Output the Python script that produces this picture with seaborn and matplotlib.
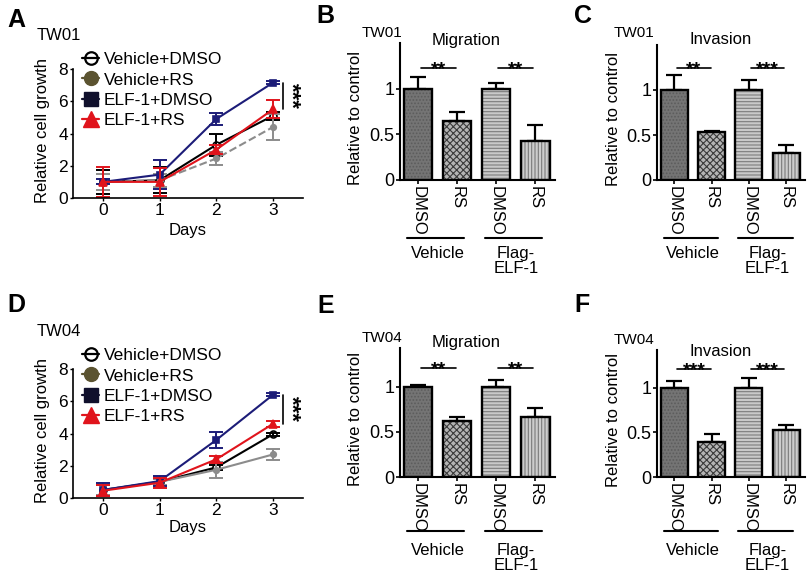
"""
Growth curves and transwell migration/invasion of TW01 and TW04 cells.
"""

import numpy as np
import matplotlib
matplotlib.use('Agg')
import matplotlib.pyplot as plt
from matplotlib.lines import Line2D
from matplotlib.patches import Rectangle
from matplotlib.transforms import offset_copy
import seaborn as sns

# ---- growth curve data (relative cell growth) ----
days = [0, 1, 2, 3]
growth_labels = ['Vehicle+DMSO', 'Vehicle+RS', 'ELF-1+DMSO', 'ELF-1+RS']

tw01_veh_dmso = [1.0, 1.1, 3.3, 5.1]
tw01_veh_dmso_err = [0.75, 0.8, 0.7, 0.25]
tw01_veh_rs = [1.0, 1.1, 2.45, 4.4]
tw01_veh_rs_err = [0.5, 0.4, 0.4, 0.8]
tw01_elf_dmso = [1.0, 1.45, 4.9, 7.15]
tw01_elf_dmso_err = [0.15, 0.9, 0.4, 0.1]
tw01_elf_rs = [1.0, 1.0, 3.0, 5.5]
tw01_elf_rs_err = [0.95, 0.85, 0.3, 0.55]

tw04_veh_dmso = [0.5, 1.0, 1.9, 3.95]
tw04_veh_dmso_err = [0.3, 0.2, 0.15, 0.1]
tw04_veh_rs = [0.5, 1.0, 1.75, 2.7]
tw04_veh_rs_err = [0.3, 0.2, 0.5, 0.35]
tw04_elf_dmso = [0.5, 1.05, 3.6, 6.4]
tw04_elf_dmso_err = [0.4, 0.3, 0.5, 0.1]
tw04_elf_rs = [0.45, 0.95, 2.4, 4.6]
tw04_elf_rs_err = [0.35, 0.3, 0.2, 0.2]

# ---- transwell data (relative to control) ----
bar_keys = ['Vehicle DMSO', 'Vehicle RS', 'Flag-ELF-1 DMSO', 'Flag-ELF-1 RS']
bar_treatments = ['DMSO', 'RS', 'DMSO', 'RS']
bar_groups = ['Vehicle', 'Flag-\nELF-1']

tw01_migration = [1.0, 0.65, 1.0, 0.43]
tw01_migration_err = [0.13, 0.1, 0.06, 0.17]
tw01_invasion = [1.0, 0.53, 1.0, 0.3]
tw01_invasion_err = [0.17, 0.02, 0.11, 0.09]
tw04_migration = [1.0, 0.62, 1.0, 0.67]
tw04_migration_err = [0.02, 0.04, 0.08, 0.1]
tw04_invasion = [1.0, 0.39, 1.0, 0.53]
tw04_invasion_err = [0.07, 0.09, 0.11, 0.05]

tw01_migration_sig = ['**', '**']
tw01_invasion_sig = ['**', '***']
tw04_migration_sig = ['**', '**']
tw04_invasion_sig = ['***', '***']

# ---- styles ----
line_styles = {
    'Vehicle+DMSO': dict(color='black', marker='o', mfc='white', ms=5),
    'Vehicle+RS': dict(color='#8c8c8c', marker='o', mfc='#8c8c8c', ms=4),
    'ELF-1+DMSO': dict(color='#1c1c78', marker='s', mfc='#1c1c78', ms=4.5),
    'ELF-1+RS': dict(color='#e0141c', marker='^', mfc='#e0141c', ms=5.5),
}
bar_faces = ['#747474', '#b4b4b4', '#c9c9c9', '#cdcdcd']
bar_hatches = ['.....', 'xxxxx', '-----', '|||||']
bar_hatch_colors = ['#5c5c5c', '#3a3a3a', '#7c7c7c', '#7a7a7a']

W, H = 812, 576

sns.set_style('ticks', rc={'text.color': 'black', 'axes.labelcolor': 'black',
                           'xtick.color': 'black', 'ytick.color': 'black',
                           'axes.edgecolor': 'black'})
plt.rcParams['font.family'] = ['Liberation Sans', 'DejaVu Sans']
plt.rcParams['hatch.linewidth'] = 0.8

fig = plt.figure(figsize=(W / 100, H / 100), dpi=100)


def px_axes(left, top, right, bottom):
    """Axes placed by pixel edges of the 812x576 canvas."""
    return fig.add_axes([left / W, 1 - bottom / H, (right - left) / W, (bottom - top) / H])


def ftext(x, y, s, **kw):
    fig.text(x / W, 1 - y / H, s, **kw)


def growth_panel(ax, vals, errs, dashed_rs):
    for label, v, e in zip(growth_labels, vals, errs):
        st = line_styles[label]
        ls = '--' if (label == 'Vehicle+RS' and dashed_rs) else '-'
        sns.lineplot(x=days, y=v, ax=ax, color=st['color'], marker=st['marker'],
                     markersize=st['ms'], markerfacecolor=st['mfc'],
                     markeredgecolor=st['color'], markeredgewidth=1.2,
                     linewidth=1.5, linestyle=ls)
        ax.errorbar(days, v, yerr=e, fmt='none', ecolor=st['color'],
                    elinewidth=1.4, capsize=5, capthick=1.4)
    ax.set_xlim(-0.53, 3.53)
    ax.set_ylim(0, 8)
    ax.set_xticks(days)
    ax.set_yticks([0, 2, 4, 6, 8])
    ax.tick_params(labelsize=12.5, length=2, width=1, pad=1.5)
    ax.set_xlabel('Days', fontsize=12)
    ax.set_ylabel('Relative cell growth', fontsize=12)
    ax.yaxis.set_label_coords(-0.1, 0.52)
    for sp in ['left', 'bottom']:
        ax.spines[sp].set_linewidth(1.2)
    sns.despine(ax=ax)

    # significance between ELF-1+DMSO and ELF-1+RS at day 3
    top, low = vals[2][-1], vals[3][-1]
    ax.plot([3.18, 3.18], [top, low], color='black', lw=1.2, clip_on=False)
    ax.text(3.31, (top + low) / 2, '***', rotation=270, ha='center', va='center',
            fontsize=16, fontweight='bold')

    handles = [
        Line2D([], [], color='black', marker='o', mfc='none', mec='black', ms=9, mew=1.6, lw=1.6),
        Line2D([], [], color='#5b5330', marker='o', mfc='#5b5330', mec='#5b5330', ms=10, lw=1.6),
        Line2D([], [], color='#10102c', marker='s', mfc='#10102c', mec='#10102c', ms=10, lw=1.6),
        Line2D([], [], color='#e0141c', marker='^', mfc='#e0141c', mec='#e0141c', ms=11, lw=1.6),
    ]
    return handles


def bar_panel(ax, means, errs, stars, sig_y, ymax, line_off, text_off):
    sns.barplot(x=bar_keys, y=means, hue=bar_keys, palette=bar_faces, legend=False,
                width=0.72, errorbar=None, saturation=1, linewidth=0, ax=ax)
    for patch, hatch, hc in zip(list(ax.patches), bar_hatches, bar_hatch_colors):
        patch.set_hatch(hatch)
        patch.set_edgecolor(hc)
        patch.set_linewidth(0)
        ax.add_patch(Rectangle(patch.get_xy(), patch.get_width(), patch.get_height(),
                               fill=False, ec='black', lw=1.7,
                               zorder=patch.get_zorder() + 0.1))
    n = len(means)
    ax.errorbar(range(n), means, yerr=[np.zeros(n), errs], fmt='none', ecolor='black',
                elinewidth=1.6, capsize=6, capthick=1.6, zorder=0.5)

    # significance brackets
    star_trans = offset_copy(ax.transData, fig=fig, y=-6, units='dots')
    for (x0, x1), s in zip([(0.08, 0.98), (2.05, 2.95)], stars):
        ax.plot([x0, x1], [sig_y, sig_y], color='black', lw=1.2)
        ax.text((x0 + x1) / 2, sig_y, s, transform=star_trans, ha='center',
                va='baseline', fontsize=14, fontweight='bold')

    ax.set_xlim(-0.46, 3.5)
    ax.set_ylim(0, ymax)
    ax.set_xticks(range(n))
    ax.set_xticklabels(bar_treatments, rotation=270, fontsize=12)
    ax.set_yticks([0, 0.5, 1])
    ax.set_yticklabels(['0', '0.5', '1'], fontsize=13)
    ax.tick_params(length=3, width=1.2, pad=1)
    ax.set_xlabel('')
    ax.set_ylabel('Relative to control', fontsize=12)
    ax.yaxis.set_label_coords(-0.24, 0.45)
    for sp in ['left', 'bottom']:
        ax.spines[sp].set_linewidth(1.5)
    sns.despine(ax=ax)

    # group lines under tick labels
    line_trans = offset_copy(ax.get_xaxis_transform(), fig=fig, y=-line_off, units='dots')
    text_trans = offset_copy(ax.get_xaxis_transform(), fig=fig, y=-text_off, units='dots')
    for (x0, x1), g in zip([(-0.28, 1.18), (1.72, 3.18)], bar_groups):
        ax.plot([x0, x1], [0, 0], transform=line_trans, color='black', lw=1.5, clip_on=False)
        ax.text((x0 + x1) / 2 + 0.05, 0, g, transform=text_trans, ha='center', va='top',
                fontsize=12, multialignment='center', linespacing=1.0)


legend_kw = dict(frameon=False, fontsize=12.5, handlelength=1.0, handletextpad=0.25,
                 labelspacing=0.3, borderpad=0, borderaxespad=0, loc='upper left',
                 bbox_transform=fig.transFigure)

# ---- panels A / D: growth ----
ax_a = px_axes(73, 69, 303, 198)
handles = growth_panel(ax_a,
                       [tw01_veh_dmso, tw01_veh_rs, tw01_elf_dmso, tw01_elf_rs],
                       [tw01_veh_dmso_err, tw01_veh_rs_err, tw01_elf_dmso_err, tw01_elf_rs_err],
                       dashed_rs=True)
ax_a.xaxis.set_label_coords(0.5, -0.19)
ax_a.legend(handles, growth_labels, bbox_to_anchor=(82 / W, 1 - 52 / H), **legend_kw)

ax_d = px_axes(73, 369, 303, 498)
handles = growth_panel(ax_d,
                       [tw04_veh_dmso, tw04_veh_rs, tw04_elf_dmso, tw04_elf_rs],
                       [tw04_veh_dmso_err, tw04_veh_rs_err, tw04_elf_dmso_err, tw04_elf_rs_err],
                       dashed_rs=False)
ax_d.xaxis.set_label_coords(0.5, -0.17)
ax_d.legend(handles, growth_labels, bbox_to_anchor=(82 / W, 1 - 348 / H), **legend_kw)

# ---- panels B, C, E, F: transwell ----
ax_b = px_axes(400, 43, 555, 180)
bar_panel(ax_b, tw01_migration, tw01_migration_err, tw01_migration_sig, 1.23, 1.5, 58, 66)
ax_c = px_axes(657, 45, 805, 180)
bar_panel(ax_c, tw01_invasion, tw01_invasion_err, tw01_invasion_sig, 1.24, 1.5, 58, 66)
ax_e = px_axes(400, 348, 555, 477)
bar_panel(ax_e, tw04_migration, tw04_migration_err, tw04_migration_sig, 1.21, 1.43, 54, 66)
ax_f = px_axes(657, 350, 805, 477)
bar_panel(ax_f, tw04_invasion, tw04_invasion_err, tw04_invasion_sig, 1.21, 1.42, 54, 66)

# ---- titles and panel letters ----
ftext(37, 35, 'TW01', fontsize=12, va='center')
ftext(37, 332, 'TW04', fontsize=12, va='center')
ftext(362, 33, 'TW01', fontsize=11, va='center')
ftext(466, 40, 'Migration', fontsize=12, va='center', ha='center')
ftext(614, 33, 'TW01', fontsize=11, va='center')
ftext(721, 40, 'Invasion', fontsize=12, va='center', ha='center')
ftext(362, 338, 'TW04', fontsize=11, va='center')
ftext(466, 342, 'Migration', fontsize=12, va='center', ha='center')
ftext(614, 340, 'TW04', fontsize=11, va='center')
ftext(721, 352, 'Invasion', fontsize=12, va='center', ha='center')

for letter, x, y in [('A', 7, 20), ('B', 316, 16), ('C', 574, 16),
                     ('D', 7, 305), ('E', 317, 306), ('F', 574, 305)]:
    ftext(x, y, letter, fontsize=18, fontweight='bold', va='center')

fig.savefig('out.png', dpi=100)
plt.close(fig)
